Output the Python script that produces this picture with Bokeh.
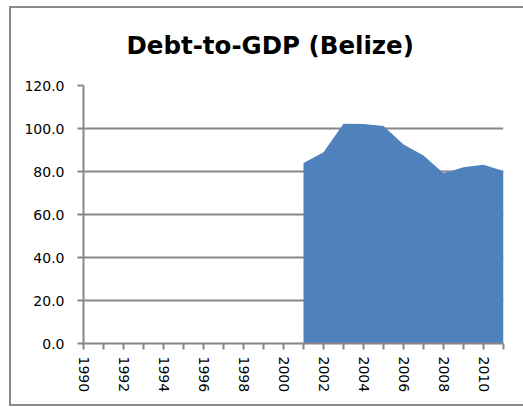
import math
from bokeh.plotting import figure
from bokeh.models import FixedTicker, NumeralTickFormatter, Range1d, ColumnDataSource, InlineStyleSheet
from bokeh.embed import file_html
from bokeh.resources import INLINE

# Data
title_text = "Debt-to-GDP (Belize)"
axis_years = list(range(1990, 2012))
label_years = list(range(1990, 2012, 2))
years = [2001, 2002, 2003, 2004, 2005, 2006, 2007, 2008, 2009, 2010, 2011]
debt = [83.9, 89.0, 102.2, 102.1, 101.2, 92.6, 87.5, 79.2, 82.0, 83.1, 80.2]
y_ticks = [0, 20, 40, 60, 80, 100, 120]

GRAY = "#878787"
FILL = "#4F81BD"

css = (":host{position:relative;}"
       ":host::after{content:'';position:absolute;left:9px;top:6px;right:-8px;bottom:-7px;"
       "border:2px solid #8a8a8a;border-right:none;pointer-events:none;}")

p = figure(width=515, height=399, output_backend="svg", toolbar_location=None,
           x_range=Range1d(1990, 2011), y_range=Range1d(0, 120),
           min_border_left=83, min_border_right=12, min_border_top=85, min_border_bottom=56)
p.stylesheets = [InlineStyleSheet(css=css)]

src = ColumnDataSource(dict(x=years, y=debt, y0=[0] * len(years)))
p.varea(x="x", y1="y0", y2="y", source=src, fill_color=FILL)

p.title.text = title_text
p.title.align = "left"
p.title.offset = 43
p.title.standoff = 52
p.title.text_font = "DejaVu Sans"
p.title.text_font_style = "bold"
p.title.text_font_size = "24.5px"
p.title.text_color = "black"

p.outline_line_color = None
p.background_fill_color = "white"
p.border_fill_color = "white"

p.xgrid.grid_line_color = None
p.ygrid.grid_line_color = GRAY
p.ygrid.grid_line_width = 2
p.ygrid.ticker = FixedTicker(ticks=y_ticks)

# X axis
p.xaxis.ticker = FixedTicker(ticks=axis_years)
p.xaxis.major_label_overrides = {y: (str(y) if y in label_years else "") for y in axis_years}
p.xaxis.major_label_orientation = -math.pi / 2
p.xaxis.minor_tick_line_color = None
p.xaxis.axis_line_color = GRAY
p.xaxis.axis_line_width = 2
p.xaxis.major_tick_line_color = GRAY
p.xaxis.major_tick_line_width = 2
p.xaxis.major_tick_out = 6
p.xaxis.major_tick_in = 0
p.xaxis.major_label_standoff = 7
p.xaxis.major_label_text_font = "DejaVu Sans"
p.xaxis.major_label_text_font_size = "14px"
p.xaxis.major_label_text_color = "black"

# Y axis
p.yaxis.ticker = FixedTicker(ticks=y_ticks)
p.yaxis.formatter = NumeralTickFormatter(format="0.0")
p.yaxis.minor_tick_line_color = None
p.yaxis.axis_line_color = GRAY
p.yaxis.axis_line_width = 2
p.yaxis.major_tick_line_color = GRAY
p.yaxis.major_tick_line_width = 2
p.yaxis.major_tick_out = 6
p.yaxis.major_tick_in = 0
p.yaxis.major_label_standoff = 13
p.yaxis.major_label_text_font = "DejaVu Sans"
p.yaxis.major_label_text_font_size = "14px"
p.yaxis.major_label_text_color = "black"

open("out.html", "w").write(file_html(p, INLINE))
